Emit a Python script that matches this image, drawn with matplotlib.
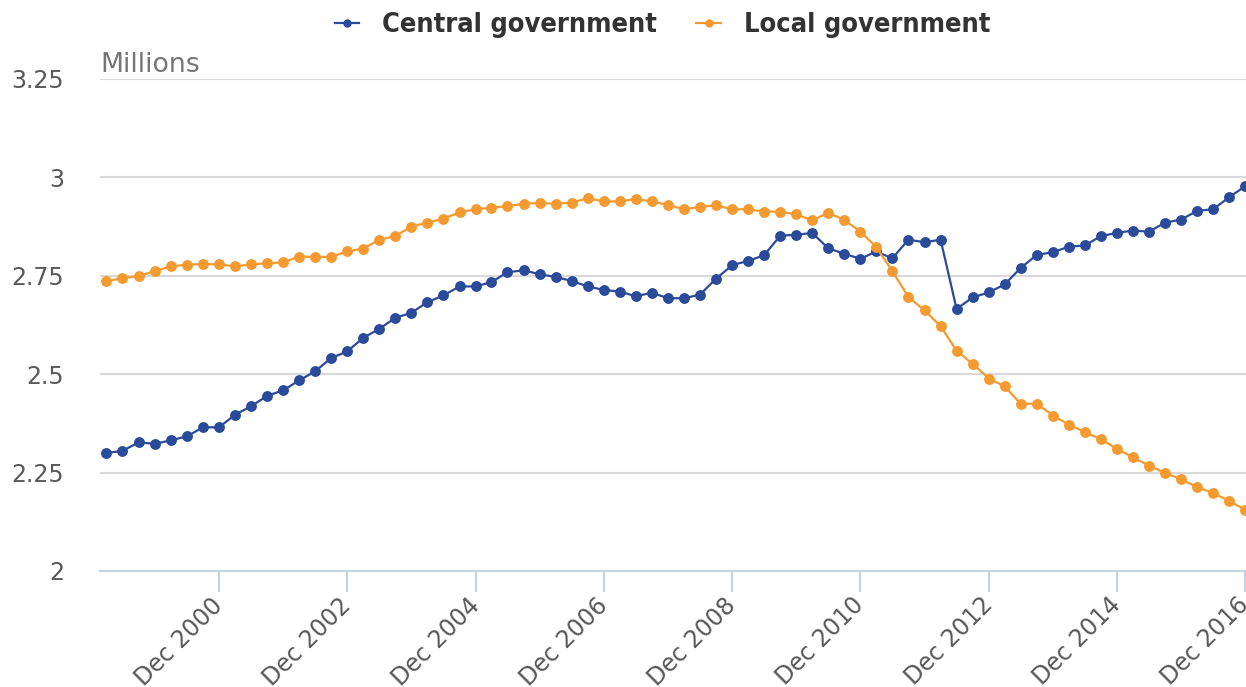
import matplotlib
matplotlib.use("Agg")
import matplotlib.pyplot as plt
import pandas as pd
import datetime as dt

dates = pd.date_range("1999-03-31", periods=72, freq="QE")

central = [2.300, 2.305, 2.327, 2.323, 2.332, 2.342, 2.365, 2.365, 2.397, 2.418,
           2.445, 2.459, 2.484, 2.507, 2.541, 2.558, 2.592, 2.615, 2.643, 2.656,
           2.683, 2.700, 2.723, 2.723, 2.734, 2.759, 2.764, 2.754, 2.747, 2.737,
           2.723, 2.714, 2.710, 2.698, 2.707, 2.693, 2.693, 2.702, 2.743, 2.777,
           2.788, 2.802, 2.852, 2.854, 2.859, 2.820, 2.806, 2.793, 2.812, 2.794,
           2.842, 2.835, 2.842, 2.666, 2.695, 2.708, 2.728, 2.770, 2.803, 2.810,
           2.824, 2.827, 2.851, 2.859, 2.865, 2.862, 2.885, 2.893, 2.915, 2.919,
           2.950, 2.978]

local = [2.736, 2.744, 2.749, 2.762, 2.774, 2.778, 2.780, 2.779, 2.774, 2.779,
         2.782, 2.784, 2.799, 2.798, 2.798, 2.812, 2.819, 2.841, 2.851, 2.875,
         2.885, 2.895, 2.911, 2.919, 2.923, 2.927, 2.933, 2.935, 2.933, 2.936,
         2.947, 2.939, 2.939, 2.945, 2.939, 2.930, 2.919, 2.925, 2.929, 2.919,
         2.919, 2.913, 2.913, 2.906, 2.891, 2.910, 2.892, 2.862, 2.823, 2.762,
         2.696, 2.662, 2.622, 2.560, 2.526, 2.489, 2.469, 2.425, 2.425, 2.395,
         2.372, 2.353, 2.335, 2.310, 2.289, 2.268, 2.249, 2.233, 2.213, 2.198,
         2.178, 2.155]

series_names = ["Central government", "Local government"]
colors = ["#2a4a9a", "#f59a30"]

y_ticks = [2, 2.25, 2.5, 2.75, 3, 3.25]
y_tick_labels = ["2", "2.25", "2.5", "2.75", "3", "3.25"]
x_tick_years = [2000, 2002, 2004, 2006, 2008, 2010, 2012, 2014, 2016]

W, H = 1246, 687
fig = plt.figure(figsize=(W / 100, H / 100), dpi=100)
ax = fig.add_axes([100 / W, (H - 571) / H, 1146 / W, (571 - 79) / H])

for vals, name, c in zip([central, local], series_names, colors):
    ax.plot(dates, vals, color=c, lw=1.6, marker="o", ms=6.8, label=name,
            clip_on=False, zorder=3)

ax.set_ylim(2, 3.25)
ax.set_xlim(dt.datetime(1999, 2, 22), dt.datetime(2017, 1, 3))
ax.set_yticks(y_ticks)
ax.set_yticklabels(y_tick_labels)
xt = [dt.datetime(y, 12, 31) for y in x_tick_years]
ax.set_xticks(xt)
ax.set_xticklabels([f"Dec {y}" for y in x_tick_years], rotation=45,
                   ha="right", va="center", rotation_mode="anchor")

ax.grid(axis="y", color="#d9d9d9", lw=1.5)
ax.set_axisbelow(True)
for s in ["top", "right", "left"]:
    ax.spines[s].set_visible(False)
ax.spines["bottom"].set_color("#c4d2e2")
ax.spines["bottom"].set_linewidth(1.5)
ax.tick_params(axis="y", length=0, pad=26, labelsize=17, labelcolor="#595959")
ax.tick_params(axis="x", length=15, width=1.5, color="#c4d2e2", pad=7,
               labelsize=17, labelcolor="#595959")

ax.text(0, 1.002, "Millions", transform=ax.transAxes, ha="left", va="bottom",
        fontsize=19.3, color="#757575")

leg = fig.legend(loc="center", bbox_to_anchor=(0.5317, 1 - 25 / H), ncol=2,
                 frameon=False, handlelength=0.9, handletextpad=0.85,
                 columnspacing=1.45,
                 prop={"family": "DejaVu Sans", "weight": "bold",
                       "stretch": "condensed", "size": 19.5})
for t in leg.get_texts():
    t.set_color("#333333")
for h in leg.legend_handles:
    h.set_markersize(5)

fig.savefig("out.png", dpi=100)
